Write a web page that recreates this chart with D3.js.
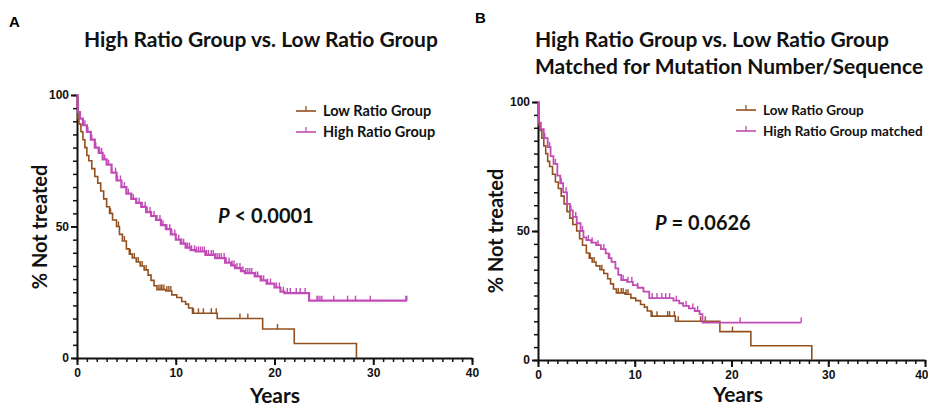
<!DOCTYPE html>
<html lang="en">
<head>
  <meta charset="UTF-8">
  <title>Kaplan-Meier curves</title>
  <script src="https://d3js.org/d3.v7.min.js"></script>
  <style>
    body { margin: 0; background: #fff; }
    svg { display: block; }
    .ttl { font-family: Lato, "Open Sans", sans-serif; font-weight: 700; fill: #111; }
    .tick text { font-family: "Liberation Sans", Arial, sans-serif; font-weight: 700; font-size: 12px; fill: #111; }
  </style>
</head>
<body>
<div class="main"></div>
<script>

  // low ratio group, shared by both panels: [years, % not treated]
  var lowSteps = [[0,100],[0.05,95],[0.1,91],[0.2,89],[0.4,86],[0.6,83],[0.8,80],[1.0,77],[1.2,75],[1.5,72],
    [1.8,69],[2.1,66.5],[2.4,63.5],[2.7,60.5],[3.0,57.5],[3.3,55],[3.6,52.5],[4.0,50],[4.3,47],[4.6,44.5],
    [5.0,41.5],[5.3,39.5],[5.6,38],[6.0,36.5],[6.4,35],[6.8,33.5],[7.2,31.5],[7.5,29.5],[7.8,27.5],[8.1,26],
    [9.0,25.5],[9.6,24],[10.1,23],[10.6,21.5],[11.0,20.5],[11.3,19],[11.7,17],[14.2,15],[18.8,11],[22.0,5.5],[28.3,0]];
  var lowCensorA = [3.4,4.2,4.8,5.4,5.8,6.2,6.6,7.0,8.3,8.5,8.6,8.8,9.1,9.3,9.5,11.8,12.3,12.8,13.6,14.1,16.5,17.3,20.3];
  var lowCensorB = [5.4,5.8,6.6,8.3,8.6,8.8,9.1,9.3,11.8,12.3,13.4,13.6,14.1,14.5,16.8,17.3,20.1];

  // high ratio group (panel A)
  var highSteps = [[0,100],[0.05,96],[0.1,93.5],[0.3,91],[0.6,88.5],[1.0,86],[1.4,83],[1.8,80],[2.2,78],[2.6,75.5],
    [3.0,73.5],[3.5,70.5],[4.0,67.5],[4.5,65],[5.0,62.5],[5.5,60.5],[6.0,59],[6.5,57.5],[7.0,55.5],[7.5,54],
    [8.0,52.5],[8.5,50.5],[9.0,49],[9.5,47],[10.0,45],[10.5,43.5],[11.0,42],[11.5,41],[12.0,40.5],[13.0,39.2],
    [14.0,38],[15.0,36.3],[15.6,35.2],[16.0,34.2],[16.6,33],[17.0,32.3],[18.0,31],[18.6,29.5],[19.2,28.3],
    [20.0,26.8],[20.6,25.2],[21.0,24.7],[23.5,21.8],[33.4,21.8]];
  var highCensor = [0.8,1.1,1.5,1.9,2.3,2.5,2.8,3.2,3.5,3.9,4.1,4.4,4.8,5.2,5.5,5.7,6.0,6.3,6.6,6.9,7.1,7.4,
    7.8,8.1,8.4,8.7,9.1,9.4,9.6,9.9,10.3,10.6,10.8,11.0,11.2,11.4,11.6,11.9,12.1,12.3,12.5,12.7,12.9,13.1,
    13.3,13.6,13.8,14.0,14.2,14.4,14.6,14.9,15.1,15.4,15.7,15.9,16.2,16.5,16.8,17.1,17.3,17.5,17.7,18.1,18.3,
    18.7,18.9,19.3,19.6,20.2,20.5,20.9,21.3,21.6,22.2,22.6,23.1,24.3,24.4,24.6,24.8,26.0,27.4,28.2,29.7,33.3,33.4];

  // high ratio group matched (panel B)
  var matchedSteps = [[0,100],[0.05,95],[0.1,92],[0.3,89.5],[0.6,86],[1.0,82.5],[1.3,79],[1.6,76],[2.0,71.5],
    [2.3,68.5],[2.6,65],[3.0,60.5],[3.3,58],[3.6,55.5],[4.0,53],[4.4,50],[4.7,47.5],[5.0,46.5],[5.5,45.5],
    [6.0,44.5],[6.5,43],[7.0,41.3],[7.3,39.5],[7.6,38],[8.0,35.5],[8.3,33],[8.6,31],[9.2,30.3],[9.8,29],
    [10.3,28],[10.9,26.5],[11.5,24],[14.0,23],[14.6,22],[15.0,21],[15.6,20],[16.2,19],[16.7,17.8],[17.0,14.5],[27.2,14.5]];
  var matchedCensor = [0.7,1.2,1.8,2.4,2.9,3.4,3.9,4.6,5.2,5.6,6.2,6.8,7.4,8.8,9.3,9.7,10.3,11.8,12.3,12.8,
    13.2,13.6,14.3,15.3,16.0,16.5,17.3,20.9,27.2];

  var brown = "#93501f", magenta = "#c24cb6";
  var width = 928, height = 406;

  var svg = d3.select(".main").append("svg")
    .attr("width", width).attr("height", height);

  function valueAt(steps, t) {
    var v = steps[0][1];
    for (var i = 0; i < steps.length; i++) {
      if (steps[i][0] <= t) v = steps[i][1];
    }
    return v;
  }

  function drawPanel(p) {
    var x = d3.scaleLinear().domain([0, 40]).range(p.xr);
    var y = d3.scaleLinear().domain([0, 100]).range(p.yr);
    var g = svg.append("g");

    // minor ticks
    var xMinor = d3.axisBottom(x).tickValues(d3.range(0, 41, 1)).tickSize(4).tickFormat("");
    var yMinor = d3.axisLeft(y).tickValues(d3.range(0, 101, 5)).tickSize(4).tickFormat("");
    g.append("g").attr("transform", `translate(0,${p.yr[0]})`).call(xMinor)
      .call(a => a.select(".domain").remove())
      .selectAll("line").attr("stroke", "#111").attr("stroke-width", 1.5);
    g.append("g").attr("transform", `translate(${p.xr[0]},0)`).call(yMinor)
      .call(a => a.select(".domain").remove())
      .selectAll("line").attr("stroke", "#111").attr("stroke-width", 1.5);

    var xAxis = d3.axisBottom(x).tickValues([0, 10, 20, 30, 40]).tickSize(7).tickSizeOuter(0).tickPadding(3);
    var yAxis = d3.axisLeft(y).tickValues([0, 50, 100]).tickSize(6).tickSizeOuter(0).tickPadding(2);
    var xg = g.append("g").attr("transform", `translate(0,${p.yr[0]})`).call(xAxis)
      .call(a => a.selectAll("line,path").attr("stroke", "#111").attr("stroke-width", 2));
    // keep the last label inside the window when the axis reaches the edge
    if (p.xr[1] > width - 10) {
      xg.selectAll(".tick text").filter(d => d === 40).attr("text-anchor", "end").attr("dx", "3px");
    }
    g.append("g").attr("transform", `translate(${p.xr[0]},0)`).call(yAxis)
      .call(a => a.selectAll("line,path").attr("stroke", "#111").attr("stroke-width", 2));

    var line = d3.line().x(d => x(d[0])).y(d => y(d[1])).curve(d3.curveStepAfter);

    p.series.forEach(function (s) {
      g.append("path").datum(s.steps)
        .attr("d", line).attr("fill", "none")
        .attr("stroke", s.color).attr("stroke-width", s.width);
      g.append("g").selectAll("line").data(s.censor).join("line")
        .attr("x1", d => x(d)).attr("x2", d => x(d))
        .attr("y1", d => y(valueAt(s.steps, d)))
        .attr("y2", d => y(valueAt(s.steps, d)) - 5)
        .attr("stroke", s.color).attr("stroke-width", 1.4);
    });

    // legend
    p.series.forEach(function (s, i) {
      var ly = p.legend[1] + i * 21;
      g.append("line").attr("x1", p.legend[0]).attr("x2", p.legend[0] + 20)
        .attr("y1", ly).attr("y2", ly).attr("stroke", s.color).attr("stroke-width", 1.6);
      g.append("line").attr("x1", p.legend[0] + 10).attr("x2", p.legend[0] + 10)
        .attr("y1", ly).attr("y2", ly - 5).attr("stroke", s.color).attr("stroke-width", 1.3);
      g.append("text").attr("class", "ttl").attr("x", p.legend[0] + 27).attr("y", ly + 5)
        .style("font-size", p.legend[2] + "px").text(s.name);
    });

    // p value
    var pt = g.append("text").attr("class", "ttl").attr("x", p.pval[0]).attr("y", p.pval[1])
      .style("font-size", "20px");
    pt.append("tspan").style("font-style", "italic").text("P");
    pt.append("tspan").text(p.pval[2]);

    // axis titles
    g.append("text").attr("class", "ttl").attr("text-anchor", "middle")
      .attr("x", p.years[0]).attr("y", p.years[1]).style("font-size", "21px").text("Years");
    g.append("text").attr("class", "ttl").attr("text-anchor", "middle")
      .attr("transform", `translate(${p.ylab[0]},${p.ylab[1]}) rotate(-90)`)
      .style("font-size", "20px").text("% Not treated");

    // panel letter and titles
    g.append("text").attr("x", p.letter[0]).attr("y", p.letter[1])
      .style("font-family", "Liberation Sans, Arial, sans-serif").style("font-weight", 700)
      .style("font-size", "15px").text(p.letter[2]);
    p.titles.forEach(function (t) {
      g.append("text").attr("class", "ttl").attr("x", t[0]).attr("y", t[1])
        .style("font-size", "21px").text(t[2]);
    });
  }

  drawPanel({
    xr: [77, 472], yr: [358, 95],
    series: [
      { name: "Low Ratio Group", steps: lowSteps, censor: lowCensorA, color: brown, width: 1.6 },
      { name: "High Ratio Group", steps: highSteps, censor: highCensor, color: magenta, width: 2.2 }
    ],
    legend: [296, 111, 14.5],
    pval: [218, 223, " < 0.0001"],
    years: [275, 403],
    ylab: [47, 227],
    letter: [9, 27, "A"],
    titles: [[84, 47, "High Ratio Group vs. Low Ratio Group"]]
  });

  drawPanel({
    xr: [538, 925], yr: [360, 102],
    series: [
      { name: "Low Ratio Group", steps: lowSteps, censor: lowCensorB, color: brown, width: 1.6 },
      { name: "High Ratio Group matched", steps: matchedSteps, censor: matchedCensor, color: magenta, width: 1.8 }
    ],
    legend: [736, 110, 13.5],
    pval: [655, 230, " = 0.0626"],
    years: [738, 402],
    ylab: [503, 231],
    letter: [475, 23, "B"],
    titles: [[535, 47, "High Ratio Group vs. Low Ratio Group"],
             [535, 74, "Matched for Mutation Number/Sequence"]]
  });

</script>
</body>
</html>
